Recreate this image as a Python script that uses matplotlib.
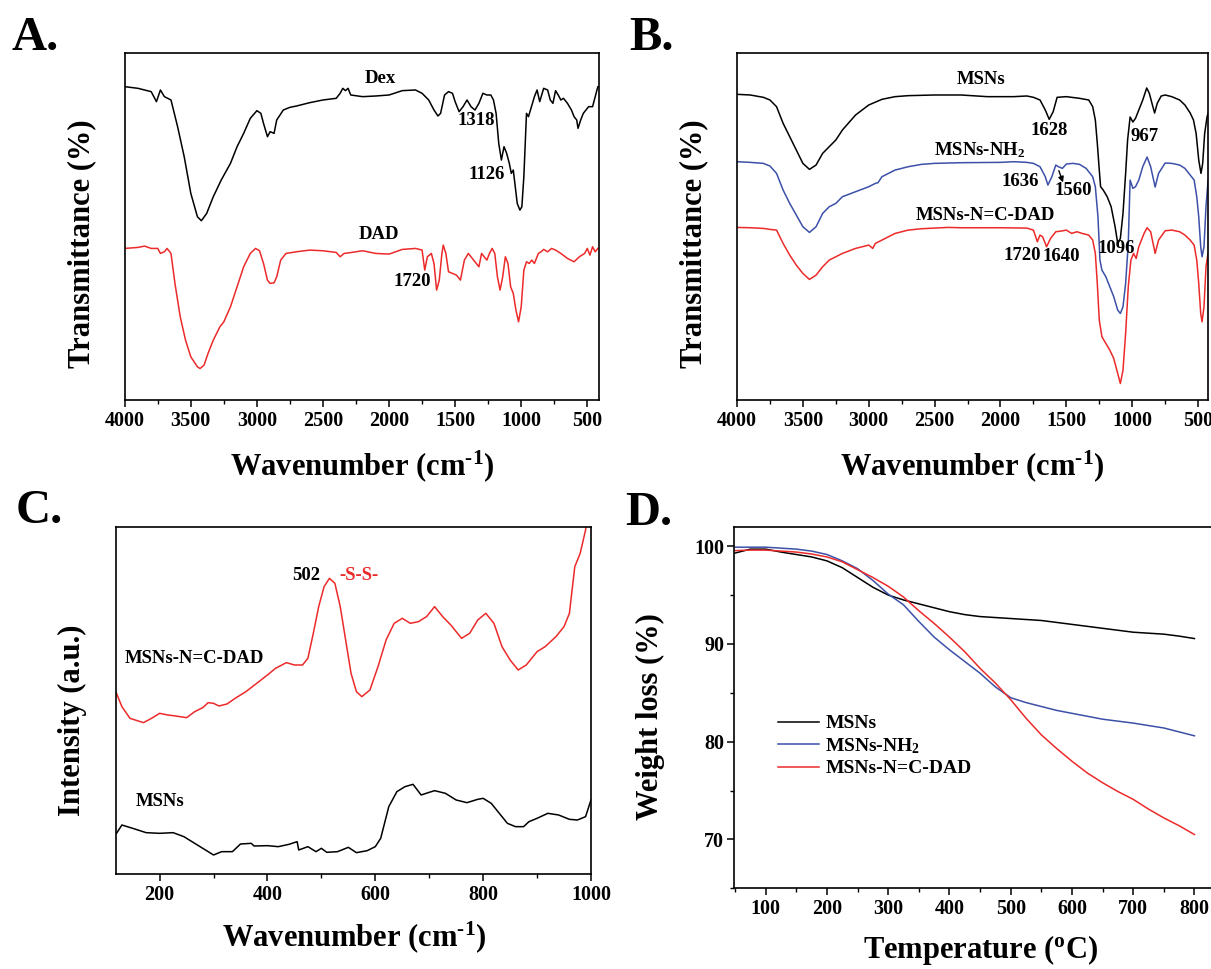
import matplotlib
matplotlib.use("Agg")
import matplotlib.pyplot as plt
from matplotlib.ticker import MultipleLocator, NullLocator

# ---------------- data ----------------
# A: FTIR of Dex and DAD (arbitrary transmittance units)
dex_wn = [4000, 3900, 3800, 3760, 3730, 3700, 3650, 3600, 3550, 3500,
          3450, 3420, 3380, 3330, 3270, 3200, 3150, 3100, 3050, 3000,
          2970, 2950, 2920, 2900, 2870, 2850, 2800, 2750, 2700, 2600,
          2500, 2400, 2370, 2350, 2330, 2310, 2290, 2200, 2100, 2000,
          1900, 1800, 1750, 1700, 1660, 1630, 1610, 1580, 1550, 1520,
          1500, 1470, 1440, 1410, 1380, 1350, 1320, 1290, 1260, 1230,
          1210, 1190, 1170, 1150, 1130, 1110, 1090, 1075, 1060, 1045,
          1030, 1010, 995, 980, 960, 945, 930, 900, 880, 860,
          830, 800, 780, 760, 740, 720, 700, 680, 650, 620,
          600, 580, 570, 550, 530, 510, 490, 460, 440, 420, 410]
dex_t = [94.0, 93.5, 92.5, 89.5, 93.0, 91.0, 90.0, 82.0, 73.0, 62.0,
         55.0, 53.8, 56.0, 61.0, 66.0, 71.0, 76.0, 80.0, 84.5, 86.8,
         86.0, 83.0, 79.0, 80.5, 80.0, 84.0, 87.0, 87.8, 88.2, 89.2,
         90.0, 90.5, 92.0, 93.5, 92.8, 93.5, 91.5, 91.0, 91.2, 91.5,
         92.8, 93.0, 92.0, 90.0, 87.0, 85.2, 86.0, 91.5, 92.5, 92.0,
         89.5, 86.5, 88.0, 90.0, 88.0, 87.0, 89.0, 92.0, 91.5, 91.5,
         90.0, 86.0, 77.0, 72.0, 76.0, 74.0, 71.0, 68.0, 69.0, 64.0,
         59.0, 57.0, 58.0, 67.0, 86.0, 85.0, 87.0, 91.0, 93.0, 89.5,
         93.5, 93.0, 90.0, 89.0, 92.8, 91.5, 90.0, 90.5, 89.0, 87.0,
         85.0, 84.0, 81.5, 84.0, 86.0, 87.0, 88.0, 88.0, 91.0, 94.0, 93.8]

dad_wn = [4000, 3900, 3850, 3800, 3750, 3730, 3700, 3680, 3650, 3620,
          3580, 3540, 3500, 3450, 3430, 3400, 3370, 3330, 3280, 3250,
          3200, 3150, 3100, 3050, 3010, 2980, 2950, 2920, 2900, 2870,
          2850, 2820, 2780, 2700, 2600, 2500, 2400, 2370, 2340, 2300,
          2200, 2100, 2000, 1950, 1900, 1800, 1750, 1730, 1710, 1680,
          1660, 1640, 1620, 1600, 1590, 1570, 1550, 1520, 1490, 1460,
          1430, 1400, 1370, 1340, 1320, 1300, 1280, 1260, 1240, 1220,
          1200, 1180, 1160, 1140, 1120, 1100, 1080, 1060, 1040, 1020,
          1000, 980, 960, 940, 920, 900, 870, 850, 830, 800,
          770, 740, 700, 650, 600, 560, 520, 500, 480, 460, 440, 420]
dad_t = [45.5, 45.8, 46.2, 45.5, 45.5, 44.0, 44.5, 45.5, 44.0, 35.0,
         25.0, 18.0, 13.0, 10.0, 9.5, 10.5, 14.0, 18.0, 22.0, 23.5,
         28.0, 34.0, 40.0, 44.0, 45.5, 44.8, 41.0, 36.0, 35.0, 35.2,
         37.0, 42.0, 44.0, 44.5, 45.0, 44.8, 44.3, 43.0, 44.0, 44.2,
         44.8, 44.0, 43.8, 44.5, 45.2, 45.5, 45.0, 39.0, 43.0, 44.0,
         41.0, 33.0, 36.0, 44.0, 46.5, 44.0, 38.5, 38.0, 37.5, 36.0,
         42.0, 44.0, 42.5, 41.0, 40.0, 44.0, 43.0, 42.0, 44.0, 45.5,
         44.0, 37.0, 33.0, 37.0, 43.0, 41.0, 34.0, 32.0, 27.0, 23.5,
         28.0, 39.0, 41.5, 41.0, 42.0, 41.0, 44.0, 44.5, 45.2, 44.5,
         45.5, 45.0, 44.0, 42.5, 41.5, 43.0, 44.0, 45.5, 43.5, 46.0, 44.5, 45.5]

# B: FTIR of MSNs, MSNs-NH2, MSNs-N=C-DAD
msn_wn = [4000, 3900, 3800, 3750, 3700, 3650, 3600, 3550, 3500, 3450,
          3400, 3350, 3300, 3250, 3200, 3100, 3000, 2900, 2800, 2700,
          2500, 2300, 2100, 1900, 1800, 1750, 1700, 1660, 1630, 1600,
          1570, 1500, 1400, 1330, 1300, 1280, 1265, 1250, 1240, 1220,
          1190, 1160, 1130, 1110, 1090, 1070, 1050, 1035, 1016, 995,
          975, 950, 920, 890, 870, 850, 830, 810, 780, 750,
          700, 640, 600, 560, 535, 515, 495, 478, 465, 450, 432, 424]
msn_t = [91.7, 91.5, 90.8, 90.0, 88.0, 83.0, 79.0, 75.0, 71.0, 69.2,
         70.5, 74.0, 76.0, 78.0, 81.0, 85.5, 88.5, 90.2, 91.0, 91.3,
         91.5, 91.5, 91.0, 91.0, 91.2, 90.8, 90.0, 87.0, 84.2, 86.5,
         90.8, 91.0, 90.5, 90.0, 88.0, 84.0, 77.0, 69.0, 64.0, 63.0,
         61.0, 58.0, 52.0, 47.0, 48.5, 56.0, 68.0, 78.0, 84.9, 83.4,
         84.5, 87.0, 90.0, 93.6, 92.0, 89.0, 86.1, 89.0, 91.2, 91.5,
         91.0, 90.0, 88.5, 86.1, 84.0, 80.0, 72.0, 68.0, 71.0, 80.0, 84.9, 86.0]

nh2_wn = [4000, 3900, 3800, 3750, 3700, 3650, 3600, 3550, 3500, 3450,
          3400, 3350, 3300, 3250, 3200, 3100, 3000, 2950, 2930, 2900,
          2800, 2700, 2600, 2500, 2300, 2000, 1900, 1800, 1750, 1700,
          1660, 1640, 1610, 1580, 1560, 1530, 1500, 1450, 1400, 1350,
          1300, 1280, 1260, 1245, 1230, 1200, 1170, 1140, 1110, 1090,
          1070, 1050, 1030, 1016, 995, 975, 950, 920, 887, 860,
          826, 800, 750, 700, 640, 600, 560, 530, 510, 495,
          480, 470, 455, 440, 424]
nh2_t = [71.5, 71.3, 71.0, 70.2, 68.0, 63.0, 59.0, 55.5, 52.0, 50.3,
         52.0, 56.0, 58.0, 59.0, 61.0, 62.5, 64.0, 65.0, 65.2, 67.0,
         69.0, 70.0, 70.7, 71.0, 71.2, 71.3, 71.5, 71.3, 71.0, 70.0,
         67.0, 64.5, 67.0, 70.5, 70.0, 69.5, 70.8, 71.0, 70.7, 69.5,
         67.0, 64.0, 55.0, 42.0, 39.0, 37.0, 34.0, 31.0, 27.0, 26.0,
         28.0, 35.0, 47.0, 66.0, 63.5, 64.0, 66.0, 70.0, 72.9, 70.0,
         63.9, 68.0, 71.1, 71.0, 70.5, 69.5, 67.5, 66.0, 61.0, 55.0,
         46.0, 43.0, 46.0, 58.0, 66.0]

dadb_wn = [4000, 3900, 3800, 3750, 3700, 3650, 3600, 3550, 3500, 3450,
           3400, 3350, 3300, 3250, 3200, 3100, 3000, 2970, 2950, 2900,
           2800, 2700, 2600, 2400, 2300, 2000, 1800, 1750, 1720, 1700,
           1680, 1650, 1620, 1580, 1540, 1500, 1460, 1420, 1380, 1330,
           1300, 1280, 1265, 1250, 1230, 1200, 1170, 1140, 1110, 1090,
           1070, 1050, 1030, 1010, 990, 970, 950, 910, 887, 860,
           826, 800, 750, 700, 640, 600, 560, 530, 510, 495,
           480, 470, 455, 440, 424]
dadb_t = [51.8, 51.7, 51.5, 51.2, 51.0, 47.0, 43.5, 40.5, 38.0, 36.2,
          37.5, 40.0, 42.0, 43.0, 44.0, 45.5, 46.5, 45.5, 47.0, 48.0,
          50.0, 51.0, 51.4, 51.8, 51.7, 51.7, 51.6, 51.0, 47.5, 49.5,
          49.0, 46.0, 48.5, 50.5, 50.7, 51.0, 50.0, 50.5, 50.0, 49.5,
          48.0, 44.0, 35.0, 24.0, 19.0, 17.0, 15.0, 12.5, 8.0, 5.0,
          9.0, 20.0, 34.0, 42.0, 44.0, 42.5, 46.0, 50.0, 51.7, 50.5,
          44.0, 48.0, 50.8, 51.0, 50.5, 49.5, 48.0, 46.5, 42.0, 35.0,
          26.0, 23.5, 28.0, 40.0, 44.0]

# C: Raman
ram_dad_wn = [120, 130, 145, 170, 185, 200, 215, 230, 250, 265,
              280, 290, 300, 310, 325, 340, 360, 380, 400, 415,
              435, 450, 465, 475, 485, 495, 505, 515, 525, 535,
              545, 555, 565, 575, 590, 605, 620, 635, 650, 665,
              680, 695, 710, 725, 740, 760, 775, 790, 805, 820,
              835, 850, 865, 880, 900, 915, 935, 950, 960, 970,
              980, 990, 995]
ram_dad_i = [54.3, 50.3, 46.8, 45.5, 46.8, 48.3, 47.8, 47.5, 47.0, 48.8,
             50.0, 51.5, 51.3, 50.5, 51.1, 52.8, 54.8, 57.3, 59.8, 61.8,
             63.5, 62.8, 62.8, 64.8, 72.3, 80.3, 86.3, 88.8, 87.3, 80.3,
             70.3, 60.3, 54.8, 53.3, 55.3, 62.3, 70.3, 75.3, 76.8, 75.3,
             75.8, 77.3, 80.3, 77.3, 74.8, 70.8, 72.3, 76.3, 78.3, 75.3,
             68.3, 64.3, 61.3, 62.8, 66.8, 68.3, 71.3, 74.3, 78.3, 92.3,
             96.3, 103.3, 110.3]

ram_msn_wn = [120, 130, 150, 175, 200, 225, 245, 265, 285, 300,
              315, 335, 350, 370, 375, 400, 420, 440, 455, 458,
              475, 490, 500, 510, 530, 550, 565, 585, 600, 610,
              625, 640, 655, 670, 685, 700, 710, 730, 750, 770,
              790, 800, 815, 830, 845, 860, 875, 885, 900, 920,
              940, 960, 975, 990, 1000]
ram_msn_i = [12.3, 14.8, 13.8, 12.5, 12.3, 12.5, 11.3, 9.3, 7.3, 5.8,
             6.8, 6.8, 9.1, 9.3, 8.5, 8.6, 8.3, 9.0, 9.8, 7.3,
             8.3, 6.8, 7.8, 6.6, 6.8, 8.1, 6.5, 7.1, 8.3, 10.8,
             20.3, 24.8, 26.3, 27.0, 23.8, 24.6, 25.1, 24.3, 22.3, 21.5,
             22.5, 22.8, 21.3, 18.3, 15.3, 14.3, 14.3, 15.8, 16.8, 18.3,
             17.8, 16.5, 16.3, 17.3, 22.3]

# D: TGA
tga_temp = [50, 75, 100, 125, 150, 175, 200, 225, 250, 275, 300, 325, 350,
            375, 400, 425, 450, 475, 500, 525, 550, 575, 600, 625, 650,
            675, 700, 725, 750, 775, 800]
tga_msn = [99.3, 99.7, 99.7, 99.4, 99.15, 98.9, 98.5, 97.8, 96.8, 95.8, 95.0,
           94.5, 94.1, 93.7, 93.3, 93.0, 92.8, 92.7, 92.6, 92.5, 92.4, 92.2,
           92.0, 91.8, 91.6, 91.4, 91.2, 91.1, 91.0, 90.8, 90.55]
tga_nh2 = [99.9, 99.9, 99.9, 99.8, 99.7, 99.5, 99.15, 98.5, 97.7, 96.5, 95.1,
           94.0, 92.3, 90.7, 89.4, 88.2, 87.0, 85.6, 84.5, 84.0, 83.6, 83.2,
           82.9, 82.6, 82.3, 82.1, 81.9, 81.65, 81.4, 81.0, 80.6]
tga_dad = [99.55, 99.6, 99.6, 99.5, 99.4, 99.2, 98.9, 98.4, 97.6, 96.8, 95.9,
           94.8, 93.4, 92.1, 90.7, 89.2, 87.5, 86.0, 84.3, 82.4, 80.7, 79.3,
           78.0, 76.8, 75.8, 74.9, 74.1, 73.1, 72.2, 71.4, 70.5]

RED = '#ec2a2a'
BLUE = '#3c50a8'

plt.rcParams['font.family'] = ['Liberation Serif', 'DejaVu Serif']
plt.rcParams['font.weight'] = 'bold'
plt.rcParams['axes.labelweight'] = 'bold'
plt.rcParams['mathtext.fontset'] = 'custom'
plt.rcParams['mathtext.rm'] = 'Liberation Serif:bold'
plt.rcParams['mathtext.bf'] = 'Liberation Serif:bold'
plt.rcParams['mathtext.it'] = 'Liberation Serif:bold:italic'
plt.rcParams['axes.linewidth'] = 1.2

fig = plt.figure(figsize=(12.11, 9.69), dpi=100)

axA = fig.add_axes([0.103, 0.587, 0.392, 0.358])
axB = fig.add_axes([0.6086, 0.587, 0.389, 0.358])
axC = fig.add_axes([0.0962, 0.0977, 0.3918, 0.3588])
axD = fig.add_axes([0.6065, 0.0833, 0.395, 0.3732])

LBL = 22
TCK = 14.5
ANN = 13.5
WN_LABEL = 'Wavenumber (cm$^{\\text{-1}}$)'


def style(ax, major, minor, yticks=False):
    ax.tick_params(axis='both', which='major', direction='out', length=5, width=1.1,
                   labelsize=TCK, pad=2.5, top=False, right=False)
    ax.tick_params(axis='both', which='minor', direction='out', length=3, width=1.0,
                   top=False, right=False)
    ax.xaxis.set_major_locator(MultipleLocator(major))
    ax.xaxis.set_minor_locator(MultipleLocator(minor))
    if not yticks:
        ax.yaxis.set_major_locator(NullLocator())
        ax.yaxis.set_minor_locator(NullLocator())


# ---- A ----
axA.plot(dex_wn, dex_t, color='black', lw=1.1)
axA.plot(dad_wn, dad_t, color=RED, lw=1.1)
axA.set_xlim(4000, 408)
axA.set_ylim(0, 104)
style(axA, 500, 250)
axA.set_xlabel(WN_LABEL, fontsize=LBL, va='center')
axA.xaxis.set_label_coords(0.5, -0.19)
axA.set_ylabel('Transmittance (%)', fontsize=LBL, va='center')
axA.yaxis.set_label_coords(-0.09, 0.45)
for txt, x, y in [('Dex', 2065, 96.3), ('1318', 1338, 83.8), ('1126', 1263, 67.8),
                  ('DAD', 2080, 49.8), ('1720', 1827, 35.5)]:
    axA.text(x, y, txt, fontsize=ANN, ha='center', va='center')

# ---- B ----
axB.plot(msn_wn, msn_t, color='black', lw=1.1)
axB.plot(nh2_wn, nh2_t, color=BLUE, lw=1.1)
axB.plot(dadb_wn, dadb_t, color=RED, lw=1.1)
axB.set_xlim(4000, 424)
axB.set_ylim(0, 104)
style(axB, 500, 250)
axB.set_xlabel(WN_LABEL, fontsize=LBL, va='center')
axB.xaxis.set_label_coords(0.5, -0.19)
axB.set_ylabel('Transmittance (%)', fontsize=LBL, va='center')
axB.yaxis.set_label_coords(-0.091, 0.45)
for txt, x, y in [('MSNs', 2146, 96.0), ('1628', 1627, 81.0), ('967', 902, 79.0),
                  ('MSNs-NH$_2$', 2160, 75.0), ('1636', 1849, 65.5), ('1560', 1445, 62.8),
                  ('MSNs-N=C-DAD', 2116, 55.5), ('1720', 1834, 43.5), ('1640', 1538, 43.0),
                  ('1096', 1122, 45.5)]:
    axB.text(x, y, txt, fontsize=ANN, ha='center', va='center')
axB.annotate('', xy=(1525, 65.3), xytext=(1557, 68.8),
             arrowprops=dict(arrowstyle='-|>', color='black', lw=1.0,
                             mutation_scale=8, shrinkA=0, shrinkB=0))

# ---- C ----
axC.plot(ram_dad_wn, ram_dad_i, color=RED, lw=1.1)
axC.plot(ram_msn_wn, ram_msn_i, color='black', lw=1.1)
axC.set_xlim(120, 1000)
axC.set_ylim(0, 104.3)
style(axC, 200, 100)
axC.set_xlabel(WN_LABEL, fontsize=LBL, va='center')
axC.xaxis.set_label_coords(0.5, -0.18)
axC.set_ylabel('Intensity (a.u.)', fontsize=LBL, va='center')
axC.yaxis.set_label_coords(-0.093, 0.444)
axC.text(471, 89.5, '502', fontsize=ANN, ha='center', va='center')
axC.text(569, 89.5, '-S-S-', fontsize=ANN, ha='center', va='center', color=RED)
axC.text(265, 64.8, 'MSNs-N=C-DAD', fontsize=ANN, ha='center', va='center')
axC.text(201, 21.8, 'MSNs', fontsize=ANN, ha='center', va='center')

# ---- D ----
axD.plot(tga_temp, tga_msn, color='black', lw=1.1, label='MSNs')
axD.plot(tga_temp, tga_nh2, color=BLUE, lw=1.1, label='MSNs-NH$_2$')
axD.plot(tga_temp, tga_dad, color=RED, lw=1.1, label='MSNs-N=C-DAD')
axD.set_xlim(49, 830)
axD.set_ylim(65, 102)
style(axD, 100, 50, yticks=True)
axD.yaxis.set_major_locator(MultipleLocator(10))
axD.yaxis.set_minor_locator(MultipleLocator(5))
axD.set_xlabel('Temperature ($^{\\rm o}$C)', fontsize=LBL, va='center')
axD.xaxis.set_label_coords(0.515, -0.17)
axD.set_ylabel('Weight loss (%)', fontsize=LBL, va='center')
axD.yaxis.set_label_coords(-0.175, 0.474)
axD.legend(loc='upper left', bbox_to_anchor=(0.092, 0.48), frameon=False,
           fontsize=14, handlelength=2.1, handletextpad=0.3, labelspacing=0.2,
           borderpad=0, borderaxespad=0)

# panel letters
for txt, x, y in [('A.', 12, 50), ('B.', 629, 50), ('C.', 16, 523), ('D.', 625, 525)]:
    fig.text(x / 1211, 1 - y / 969, txt, fontsize=35, fontweight='bold',
             ha='left', va='baseline')

fig.savefig('out.png', dpi=100)
